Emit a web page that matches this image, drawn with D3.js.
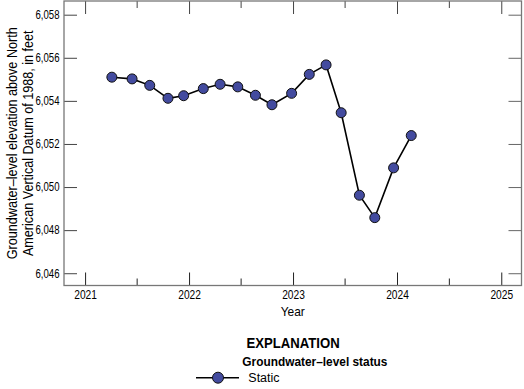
<!DOCTYPE html>
<html>
<head>
<meta charset="utf-8">
<script src="https://cdn.jsdelivr.net/npm/d3@7"></script>
<style>
  body { margin: 0; background: #fff; }
  text { font-family: "Liberation Sans", Arial, sans-serif; fill: #000; }
</style>
</head>
<body>
<svg id="chart" width="524" height="389"></svg>
<script>
const dates = [
  '2021-04-05', '2021-06-15', '2021-08-16', '2021-10-19', '2021-12-13',
  '2022-02-20', '2022-04-20', '2022-06-21', '2022-08-22', '2022-10-19', '2022-12-27',
  '2023-02-27', '2023-04-27', '2023-06-19', '2023-08-22', '2023-10-15', '2023-12-20',
  '2024-02-20',
];
const levels = [
  6055.10, 6055.02, 6054.72, 6054.12, 6054.24,
  6054.57, 6054.77, 6054.65, 6054.26, 6053.82, 6054.35,
  6055.23, 6055.67, 6053.45, 6049.62, 6048.58, 6050.89,
  6052.39,
];
const yTicks = [6046, 6048, 6050, 6052, 6054, 6056, 6058];
const yearTicks = ['2021', '2022', '2023', '2024', '2025'];
const halfYearTicks = ['2021-07-01', '2022-07-01', '2023-07-01', '2024-07-01'];

const parse = d3.utcParse('%Y-%m-%d');
const data = dates.map((d, i) => ({ date: parse(d), level: levels[i] }));

// Plot frame
const frame = { left: 64, right: 521.5, top: 1, bottom: 285.5 };
const svg = d3.select('#chart');

// squeeze text horizontally to mimic the condensed USGS face
function condense(sel, k) {
  sel.each(function () {
    const t = d3.select(this);
    const prev = t.attr('transform') || '';
    t.attr('transform', `${prev} scale(${k},1)`);
  });
}

const x = d3.scaleUtc()
  .domain([new Date(Date.UTC(2020, 9, 19)), new Date(Date.UTC(2025, 2, 13))])
  .range([frame.left, frame.right]);
const y = d3.scaleLinear()
  .domain([6045.43, 6058.636])
  .range([frame.bottom, frame.top]);

const yearDates = yearTicks.map(t => new Date(Date.UTC(+t, 0, 1)));
const halfDates = halfYearTicks.map(parse);
const fmt = d3.format(',');

// Axes: ticks point inward, labels outside
const majorLen = 13, minorLen = 7;
svg.append('g')
  .attr('transform', `translate(0,${frame.bottom})`)
  .call(d3.axisBottom(x).tickValues(yearDates).tickFormat(d3.utcFormat('%Y'))
    .tickSizeInner(-majorLen).tickSizeOuter(0).tickPadding(4.5))
  .call(g => g.select('.domain').remove())
  .call(g => g.selectAll('line').attr('stroke', '#222'))
  .call(g => g.selectAll('text').style('font-size', '12px').call(condense, 0.85));
svg.append('g')
  .attr('transform', `translate(0,${frame.bottom})`)
  .call(d3.axisBottom(x).tickValues(halfDates).tickFormat('')
    .tickSizeInner(-minorLen).tickSizeOuter(0))
  .call(g => g.select('.domain').remove())
  .call(g => g.selectAll('line').attr('stroke', '#222'));
svg.append('g')
  .attr('transform', `translate(0,${frame.top})`)
  .call(d3.axisTop(x).tickValues(yearDates).tickFormat('')
    .tickSizeInner(-majorLen).tickSizeOuter(0))
  .call(g => g.select('.domain').remove())
  .call(g => g.selectAll('line').attr('stroke', '#444'));
svg.append('g')
  .attr('transform', `translate(0,${frame.top})`)
  .call(d3.axisTop(x).tickValues(halfDates).tickFormat('')
    .tickSizeInner(-minorLen).tickSizeOuter(0))
  .call(g => g.select('.domain').remove())
  .call(g => g.selectAll('line').attr('stroke', '#444'));

svg.append('g')
  .attr('transform', `translate(${frame.left},0)`)
  .call(d3.axisLeft(y).tickValues(yTicks).tickFormat(fmt)
    .tickSizeInner(-majorLen).tickSizeOuter(0).tickPadding(5.6))
  .call(g => g.select('.domain').remove())
  .call(g => g.selectAll('line').attr('stroke', '#444'))
  .call(g => g.selectAll('text').style('font-size', '12px').call(condense, 0.8));
svg.append('g')
  .attr('transform', `translate(${frame.right},0)`)
  .call(d3.axisRight(y).tickValues(yTicks).tickFormat('')
    .tickSizeInner(-majorLen).tickSizeOuter(0))
  .call(g => g.select('.domain').remove())
  .call(g => g.selectAll('line').attr('stroke', '#666'));

svg.append('rect')
  .attr('x', frame.left).attr('y', frame.top)
  .attr('width', frame.right - frame.left).attr('height', frame.bottom - frame.top)
  .attr('fill', 'none').attr('stroke', '#777').attr('stroke-width', 1.3);

// Series
const line = d3.line().x(d => x(d.date)).y(d => y(d.level));
svg.append('path')
  .datum(data)
  .attr('d', line)
  .attr('fill', 'none')
  .attr('stroke', '#000')
  .attr('stroke-width', 1.6);
svg.append('g')
  .selectAll('circle')
  .data(data)
  .join('circle')
  .attr('cx', d => x(d.date))
  .attr('cy', d => y(d.level))
  .attr('r', 5)
  .attr('fill', '#434b9f')
  .attr('stroke', '#111')
  .attr('stroke-width', 1);

// Axis titles
svg.append('text')
  .attr('transform', `translate(16.5,${(frame.top + frame.bottom) / 2}) rotate(-90) scale(0.87,1)`)
  .attr('text-anchor', 'middle')
  .style('font-size', '14.5px')
  .selectAll('tspan')
  .data(['Groundwater\u2013level elevation above North', 'American Vertical Datum of 1988, in feet'])
  .join('tspan')
  .attr('x', 0)
  .attr('dy', (d, i) => (i === 0 ? 0 : 16.5))
  .text(d => d);

svg.append('text')
  .attr('transform', `translate(${(frame.left + frame.right) / 2},315.5) scale(0.92,1)`)
  .attr('text-anchor', 'middle')
  .style('font-size', '13px')
  .text('Year');

// Explanation
svg.append('text')
  .attr('transform', 'translate(246.5,348.3) scale(0.86,1)')
  .style('font-size', '15.3px').style('font-weight', 'bold')
  .text('EXPLANATION');
svg.append('text')
  .attr('transform', 'translate(242.3,365.7) scale(0.95,1)')
  .style('font-size', '12.5px').style('font-weight', 'bold')
  .text('Groundwater\u2013level status');
svg.append('line')
  .attr('x1', 196).attr('x2', 239).attr('y1', 377.7).attr('y2', 377.7)
  .attr('stroke', '#000').attr('stroke-width', 1.6);
svg.append('circle')
  .attr('cx', 218).attr('cy', 377.7).attr('r', 5.5)
  .attr('fill', '#434b9f').attr('stroke', '#111');
svg.append('text')
  .attr('transform', 'translate(248.3,381.7) scale(1.0,1)')
  .style('font-size', '12.5px')
  .text('Static');
</script>
</body>
</html>
